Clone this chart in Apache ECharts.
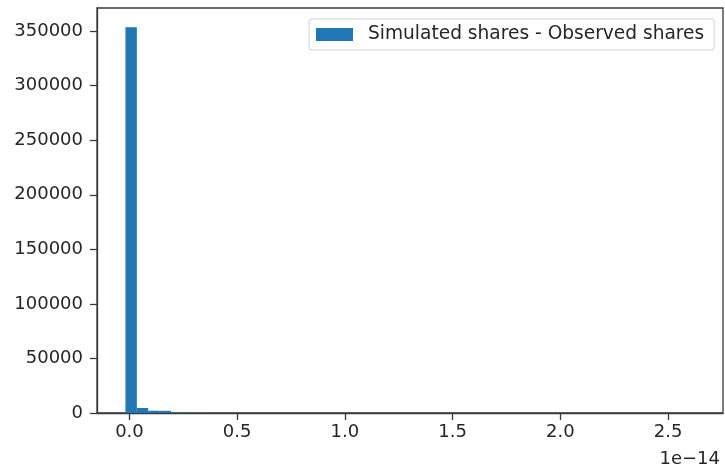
<!DOCTYPE html>
<html>
<head>
<meta charset="utf-8">
<script src="https://cdn.jsdelivr.net/npm/echarts@6/dist/echarts.min.js"></script>
<style>
  html, body { margin: 0; padding: 0; background: #fff; }
  #chart { width: 725px; height: 474px; }
</style>
</head>
<body>
<div id="chart"></div>
<script>
// Histogram of (simulated - observed) shares, x values in units of 1e-14
const seriesName = 'Simulated shares - Observed shares';
const histMin = -0.0185;
const histMax = 2.623;
const binCount = 50;
const binCounts = [
  353500, 4600, 2100, 2000, 300, 150, 80, 60, 40, 30,
  20, 15, 10, 8, 6, 5, 4, 3, 3, 2,
  2, 1, 1, 1, 1, 0, 1, 0, 0, 1,
  0, 0, 0, 1, 0, 0, 0, 0, 0, 0,
  0, 0, 0, 0, 0, 0, 0, 0, 0, 1
];
const xTicks = [0, 0.5, 1.0, 1.5, 2.0, 2.5];
const yTicks = [0, 50000, 100000, 150000, 200000, 250000, 300000, 350000];
const xOffsetText = '1e\u221214';

const binWidth = (histMax - histMin) / binCount;
const bins = binCounts.map((c, i) => [histMin + i * binWidth, histMin + (i + 1) * binWidth, c]);

// axis padding like matplotlib's default 5% margins
const xSpan = histMax - histMin;
const xMin = histMin - 0.05 * xSpan;
const xMax = histMax + 0.05 * xSpan;
const yMax = Math.max(...binCounts) * 1.05;

const textColor = '#262626';
const lineColor = '#3a3a3a';
const font = 'DejaVu Sans';

const chart = echarts.init(document.getElementById('chart'), null, { renderer: 'canvas' });
chart.setOption({
  animation: false,
  backgroundColor: '#fff',
  grid: {
    left: 97, right: 2, top: 8, bottom: 61,
    show: true, borderColor: lineColor, borderWidth: 1.3, backgroundColor: 'transparent'
  },
  legend: {
    show: true,
    data: [seriesName],
    left: 309, top: 19,
    padding: [6, 10, 6, 7],
    borderColor: '#d0d0d0', borderWidth: 1, borderRadius: 3,
    backgroundColor: '#fff',
    icon: 'rect', itemWidth: 37, itemHeight: 13,
    textStyle: { fontFamily: font, fontSize: 18.6, color: textColor, padding: [0, 0, 0, 10] }
  },
  xAxis: {
    type: 'value', min: xMin, max: xMax,
    splitLine: { show: false },
    axisLine: { show: true, onZero: false, lineStyle: { color: lineColor, width: 1.3 } },
    axisTick: { show: true, length: 7, customValues: xTicks, lineStyle: { color: lineColor, width: 1.3 } },
    axisLabel: {
      customValues: xTicks, margin: 10,
      fontFamily: font, fontSize: 18, color: textColor,
      formatter: v => v.toFixed(1)
    }
  },
  yAxis: {
    type: 'value', min: 0, max: yMax,
    splitLine: { show: false },
    axisLine: { show: true, onZero: false, lineStyle: { color: lineColor, width: 1.3 } },
    axisTick: { show: true, length: 7, customValues: yTicks, lineStyle: { color: lineColor, width: 1.3 } },
    axisLabel: {
      customValues: yTicks, margin: 14,
      fontFamily: font, fontSize: 18, color: textColor,
      formatter: v => String(v)
    }
  },
  series: [{
    name: seriesName,
    type: 'custom',
    itemStyle: { color: '#1f77b4' },
    encode: { x: [0, 1], y: 2 },
    data: bins,
    renderItem: function (params, api) {
      const p0 = api.coord([api.value(0), api.value(2)]);
      const p1 = api.coord([api.value(1), 0]);
      return {
        type: 'rect',
        shape: { x: p0[0], y: p0[1], width: p1[0] - p0[0], height: p1[1] - p0[1] },
        style: { fill: '#1f77b4' }
      };
    }
  }],
  graphic: [{
    type: 'text',
    right: 5, top: 450,
    style: { text: xOffsetText, font: '18px "DejaVu Sans"', fill: textColor }
  }]
});
</script>
</body>
</html>
